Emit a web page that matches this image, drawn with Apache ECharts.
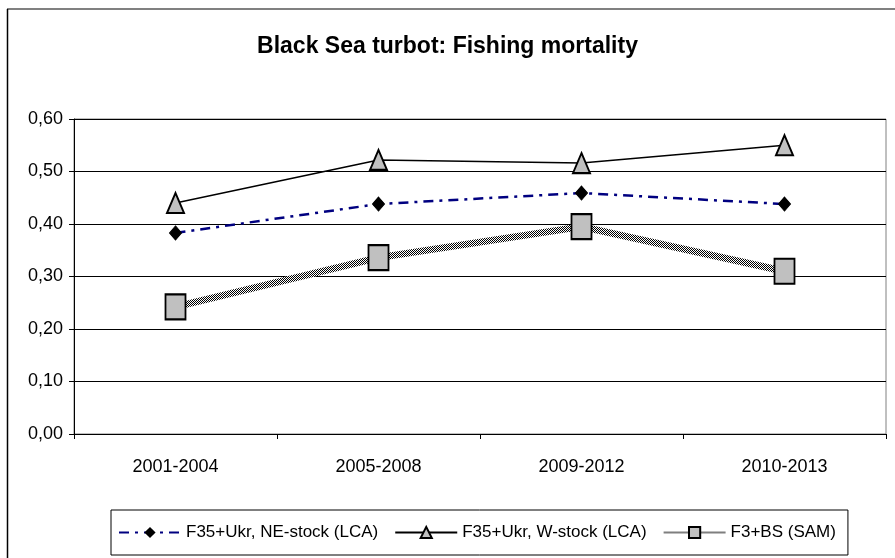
<!DOCTYPE html>
<html>
<head>
<meta charset="utf-8">
<script src="https://cdn.jsdelivr.net/npm/echarts@6/dist/echarts.min.js"></script>
<style>
  html, body { margin: 0; padding: 0; background: #fff; }
  #chart { width: 895px; height: 558px; }
</style>
</head>
<body>
<div id="chart"></div>
<script>
var periods = ['2001-2004', '2005-2008', '2009-2012', '2010-2013'];
var neStock = [0.383, 0.438, 0.459, 0.438];
var wStock = [0.44, 0.522, 0.516, 0.55];
var samBS = [0.242, 0.336, 0.395, 0.31];

var nameNE = 'F35+Ukr, NE-stock (LCA)';
var nameW = 'F35+Ukr, W-stock (LCA)';
var nameSAM = 'F3+BS (SAM)';

// checkered fill for the SAM line
var pat = document.createElement('canvas');
pat.width = 2; pat.height = 2;
var pctx = pat.getContext('2d');
pctx.fillStyle = '#ffffff'; pctx.fillRect(0, 0, 2, 2);
pctx.fillStyle = '#000000'; pctx.fillRect(0, 0, 1, 1); pctx.fillRect(1, 1, 1, 1);

var font = 'Liberation Sans';
var myChart = echarts.init(document.getElementById('chart'));

var option = {
    animation: false,
    textStyle: { fontFamily: font },
    title: {
        text: 'Black Sea turbot: Fishing mortality',
        left: 'center', top: 30,
        textStyle: { fontSize: 23, fontWeight: 'bold', color: '#000', fontFamily: font }
    },
    graphic: [
        { type: 'line', shape: { x1: 7, y1: 9, x2: 900, y2: 9 },
          style: { stroke: '#808080', lineWidth: 2 }, silent: true },
        { type: 'line', shape: { x1: 7.5, y1: 9, x2: 7.5, y2: 600 },
          style: { stroke: '#000', lineWidth: 1.5 }, silent: true }
    ],
    legend: {
        data: [nameNE, nameW, nameSAM],
        left: 111, top: 510,
        padding: [14, 12, 14, 7],
        itemGap: 16, itemWidth: 62, itemHeight: 14,
        borderColor: '#000', borderWidth: 1,
        textStyle: { fontSize: 17, color: '#000', fontFamily: font }
    },
    grid: { left: 74, right: 9, top: 119, bottom: 124, show: true, borderColor: '#808080', borderWidth: 1 },
    xAxis: {
        type: 'category', data: periods, boundaryGap: true,
        axisLine: { lineStyle: { color: '#000', width: 1 } },
        axisTick: { show: true, length: 5, inside: false, lineStyle: { color: '#000' } },
        axisLabel: { fontSize: 18, color: '#000', margin: 24, fontFamily: font }
    },
    yAxis: {
        type: 'value', min: 0, max: 0.6, interval: 0.1,
        axisLine: { show: true, lineStyle: { color: '#000', width: 1 } },
        axisTick: { show: true, length: 5, lineStyle: { color: '#000' } },
        splitLine: { lineStyle: { color: '#000', width: 1 } },
        axisLabel: {
            fontSize: 18, color: '#000', margin: 11, fontFamily: font,
            formatter: function (v) { return v.toFixed(2).replace('.', ','); }
        }
    },
    series: [
        {
            name: nameSAM, type: 'line', data: samBS, z: 2,
            symbol: 'rect', symbolSize: [20, 25],
            itemStyle: { color: '#c0c0c0', borderColor: '#000', borderWidth: 2 },
            lineStyle: { width: 7, color: { image: pat, repeat: 'repeat' } }
        },
        {
            name: nameNE, type: 'line', data: neStock, z: 3,
            symbol: 'diamond', symbolSize: [12, 14],
            itemStyle: { color: '#000', borderColor: '#000' },
            lineStyle: { width: 2.5, color: '#000080', type: [10, 6, 3, 6] }
        },
        {
            name: nameW, type: 'line', data: wStock, z: 4,
            symbol: 'triangle', symbolSize: [17, 20],
            itemStyle: { color: '#c0c0c0', borderColor: '#000', borderWidth: 2 },
            lineStyle: { width: 1.5, color: '#000' }
        }
    ]
};

myChart.setOption(option);
</script>
</body>
</html>
